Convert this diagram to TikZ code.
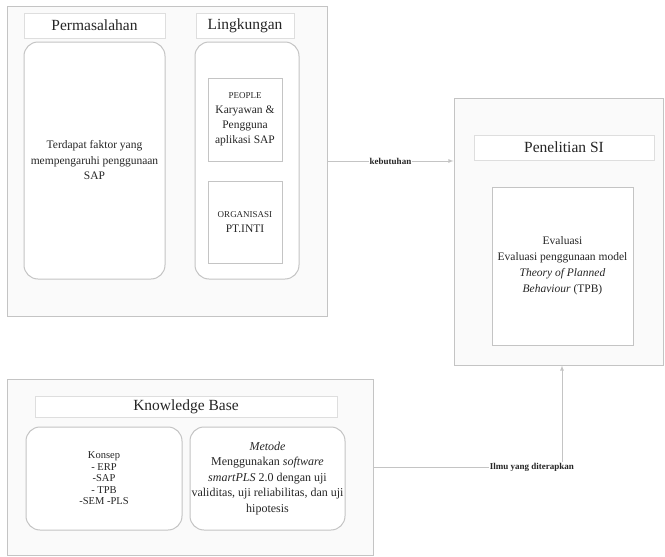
\documentclass[tikz,border=0pt]{standalone}
\usepackage{fontspec}
\setmainfont{Liberation Serif}
\usetikzlibrary{positioning,arrows}
\definecolor{linegray}{RGB}{196,196,196}
\definecolor{titlegray}{RGB}{222,222,222}
\definecolor{panelgray}{RGB}{250,250,250}
\definecolor{inkgray}{RGB}{38,38,38}

\begin{document}
\begin{tikzpicture}[x=1pt,y=-1pt,text=inkgray]
  \tikzstyle{panel} = [draw=linegray, fill=panelgray, line width=0.9pt, inner sep=0pt];
  \tikzstyle{titlebox} = [draw=titlegray, fill=white, line width=0.9pt, inner sep=0pt,
                          font=\fontsize{15.5}{18}\selectfont];
  \tikzstyle{roundbox} = [draw=linegray, fill=white, line width=1pt, rounded corners=14pt,
                          align=center, inner sep=0pt, font=\fontsize{11.5}{15.5}\selectfont];
  \tikzstyle{plainbox} = [draw=linegray, fill=white, line width=0.9pt, align=center,
                          inner sep=0pt, font=\fontsize{11.5}{15}\selectfont];
  \tikzstyle{conn} = [draw=linegray, line width=0.8pt, -latex];
  \tikzstyle{connlabel} = [fill=white, inner sep=1pt, font=\fontsize{9}{11}\selectfont\bfseries];
  \useasboundingbox (0,0) rectangle (665,557);

  % lingkungan dan permasalahan
  \node[panel, minimum width=320, minimum height=310] (env) at (167,161) {};
  \node[titlebox, minimum width=141, minimum height=25] (permtitle) at (94.5,25.5) {Permasalahan};
  \node[titlebox, minimum width=98, minimum height=25] (lingtitle) at (245,25.5) {Lingkungan};
  \node[roundbox, minimum width=141, minimum height=237] (perm) at (94.5,160.5)
    {Terdapat faktor yang\\mempengaruhi penggunaan\\SAP};
  \node[roundbox, minimum width=104, minimum height=237] (ling) at (247,160.5) {};
  \node[plainbox, minimum width=74, minimum height=83] (people) at (245,119.5)
    {{\fontsize{9}{15}\selectfont PEOPLE}\\Karyawan \&\\Pengguna\\aplikasi SAP};
  \node[plainbox, minimum width=74, minimum height=82] (org) at (245,222)
    {{\fontsize{9}{14}\selectfont ORGANISASI}\\PT.INTI};

  % penelitian
  \node[panel, minimum width=209, minimum height=267] (pen) at (558.5,231.5) {};
  \node[titlebox, minimum width=180, minimum height=25] (pentitle) at (564,147.5) {Penelitian SI};
  \node[plainbox, minimum width=141, minimum height=158, font=\fontsize{11.5}{16}\selectfont] (eval) at (562.5,266)
    {Evaluasi\\Evaluasi penggunaan model\\\textit{Theory of Planned}\\\textit{Behaviour} (TPB)};

  % knowledge base
  \node[panel, minimum width=366, minimum height=176] (kb) at (190,467) {};
  \node[titlebox, minimum width=302, minimum height=21] (kbtitle) at (186,406.5) {Knowledge Base};
  \node[roundbox, minimum width=156, minimum height=103, font=\fontsize{10.5}{11.5}\selectfont] (konsep) at (104,478.5)
    {Konsep\\- ERP\\-SAP\\- TPB\\-SEM -PLS};
  \node[roundbox, minimum width=155, minimum height=103, font=\fontsize{12}{15.5}\selectfont] (metode) at (267.5,478.5)
    {\textit{Metode}\\Menggunakan \textit{software}\\\textit{smartPLS} 2.0 dengan uji\\validitas, uji reliabilitas, dan uji\\hipotesis};

  % hubungan
  \draw[conn] (env.east) -- node[connlabel, pos=0.5] {kebutuhan} (env.east -| pen.west);
  \draw[conn] (kb.east) -| node[connlabel, pos=0.42] {Ilmu yang diterapkan} ([xshift=3.5]pen.south);
\end{tikzpicture}
\end{document}
